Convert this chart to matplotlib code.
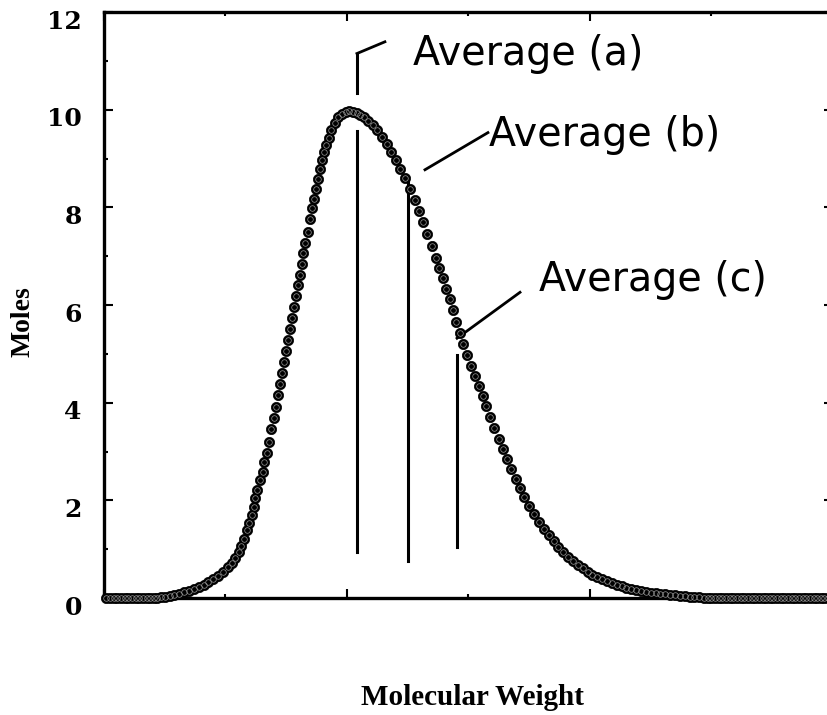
import matplotlib.pyplot as plt
from matplotlib.ticker import MultipleLocator, NullFormatter
from matplotlib.transforms import ScaledTranslation

# molecular weight (arbitrary units) and moles
mw = [1, 2.5, 4, 5.5, 7, 8.5, 10, 11.5, 13, 14.5, 16, 17.5, 19, 20.5, 22, 23.5, 25,
      27, 29, 31, 33, 35, 37, 39, 41, 43, 45, 47, 49, 51, 52.5, 54, 55.5, 56.5, 57.5,
      58.7, 59.8, 60.8, 61.7, 62.3, 63.1, 64.2, 65.3, 66.0, 67.0, 68.0, 68.8, 70.0, 70.8,
      71.7, 72.5, 73.3, 74.1, 74.9, 75.7, 76.5, 77.3, 78.1, 78.9, 79.7, 80.5, 81.3, 82.1,
      82.9, 83.8, 84.8, 85.6, 86.4, 87.2, 88.0, 88.8, 89.6, 90.4, 91.3, 92.4, 93.6, 95.0,
      96.5, 98.0, 99.5, 101.0, 102.5, 104.0, 105.5, 107.0, 108.5, 110.5, 112.5, 114.5,
      116.3, 118.0, 120.0, 122.0, 124.0, 126.0, 127.8, 129.5, 131.2, 133.0, 134.8, 136.6,
      138.0, 139.4, 140.8, 142.2, 143.6, 145.0, 146.4, 147.8, 149.4, 151.0, 152.6, 154.2,
      155.8, 157.4, 159.0, 160.7, 162.4, 164.1, 165.8, 167.6, 169.4, 171.2, 173.0, 175.0,
      177.0, 179.0, 181.0, 183.0, 185.0, 187.0, 189.0, 191.0, 193.0, 195.0, 197.0, 199.0,
      201.0, 203.0, 205.0, 207.0, 209.0, 211.0, 213.0, 215.0, 217.0, 219.0, 221.0, 223.0,
      225.0, 227.0, 229.0, 231.0, 233.0, 235.0, 237.0, 239.0, 241.0, 243.0, 245.0, 247.0,
      248.5, 250, 251.5, 253, 254.5, 256, 257.5, 259, 260.5, 262, 263.5, 265, 266.5, 268,
      269.5, 271, 272.5, 274, 275.5, 277, 278.5, 280, 281.5, 283, 284.5, 286, 287.5, 289,
      290.5, 292, 293.5, 295, 296.5, 298, 299.5]
moles = [0, 0, 0, 0, 0, 0, 0, 0, 0, 0, 0, 0, 0, 0, 0, 0.02, 0.03,
         0.05, 0.07, 0.09, 0.12, 0.15, 0.18, 0.22, 0.27, 0.33, 0.39, 0.46, 0.54, 0.63, 0.72, 0.82, 0.95, 1.06, 1.2,
         1.39, 1.54, 1.70, 1.87, 2.05, 2.21, 2.42, 2.59, 2.79, 2.97, 3.20, 3.46, 3.69, 3.91,
         4.15, 4.38, 4.6, 4.83, 5.05, 5.28, 5.5, 5.73, 5.95, 6.18, 6.4, 6.62, 6.84, 7.06,
         7.27, 7.5, 7.76, 7.98, 8.18, 8.38, 8.58, 8.78, 8.97, 9.13, 9.28, 9.43, 9.58, 9.73,
         9.84, 9.92, 9.96, 9.97, 9.96, 9.93, 9.89, 9.84, 9.77, 9.68, 9.58, 9.45,
         9.3, 9.14, 8.97, 8.79, 8.6, 8.38, 8.16, 7.93, 7.7, 7.45, 7.2, 6.96,
         6.75, 6.55, 6.33, 6.12, 5.9, 5.66, 5.42, 5.2, 4.98, 4.76, 4.55, 4.34,
         4.14, 3.93, 3.7, 3.48, 3.26, 3.05, 2.85, 2.64, 2.44, 2.25, 2.07, 1.89,
         1.72, 1.56, 1.42, 1.29, 1.17, 1.05, 0.95, 0.85, 0.76, 0.68, 0.61, 0.54,
         0.48, 0.43, 0.38, 0.34, 0.3, 0.27, 0.24, 0.21, 0.19, 0.17, 0.15, 0.13,
         0.11, 0.1, 0.09, 0.08, 0.07, 0.06, 0.05, 0.04, 0.03, 0.02, 0.02, 0.01,
         0, 0, 0, 0, 0, 0, 0, 0, 0, 0, 0, 0, 0, 0,
         0, 0, 0, 0, 0, 0, 0, 0, 0, 0, 0, 0, 0, 0,
         0, 0, 0, 0, 0, 0, 0]

# the three averages: position, bottom/top of the drop line, label text
avg_x = [104.1, 125.1, 145.3]
avg_bottom = [0.94, 0.76, 1.05]
avg_top = [9.57, 8.57, 4.98]
avg_labels = ['Average (a)', 'Average (b)', 'Average (c)']
label_pos = [(127, 11.13), (158.5, 9.49), (179.2, 6.52)]
leader_start = [(104.1, 11.15), (132.1, 8.77), (145.3, 5.32)]
leader_end = [(115.6, 11.39), (158.0, 9.53), (171.2, 6.26)]

fig = plt.figure(figsize=(8.28, 7.15), dpi=100)
ax = fig.add_axes([0.1256, 0.1636, 0.8804, 0.8196])

ax.plot(mw, moles, 'o', ms=7.4, mfc='black', mec='black', mew=0.5, clip_on=False, zorder=3)
ax.plot(mw, moles, 'o', ms=4.0, mfc='none', mec='0.6', mew=0.5, clip_on=False, zorder=4)

for i in range(3):
    ax.plot([avg_x[i], avg_x[i]], [avg_bottom[i], avg_top[i]], color='black', lw=2.2, zorder=2)
    ax.plot([leader_start[i][0], leader_end[i][0]], [leader_start[i][1], leader_end[i][1]],
            color='black', lw=2.0, zorder=2)
    ax.text(label_pos[i][0], label_pos[i][1], avg_labels[i], fontsize=28.5,
            family='DejaVu Sans', ha='left', va='center')

# upper piece of the (a) line above the peak
ax.plot([avg_x[0], avg_x[0]], [10.35, 11.15], color='black', lw=2.2)

ax.set_xlim(0, 300)
ax.set_ylim(0, 12)
ax.xaxis.set_major_locator(MultipleLocator(100))
ax.xaxis.set_minor_locator(MultipleLocator(50))
ax.yaxis.set_major_locator(MultipleLocator(2))
ax.yaxis.set_minor_locator(MultipleLocator(1))
ax.xaxis.set_major_formatter(NullFormatter())
ax.tick_params(which='both', direction='in', top=True, right=True, width=1.5)
ax.tick_params(which='major', length=6.5)
ax.tick_params(which='minor', length=3)
ax.tick_params(axis='y', pad=16)
shift = ScaledTranslation(0, -7 / 100, fig.dpi_scale_trans)
for lab in ax.get_yticklabels():
    lab.set_fontfamily('DejaVu Serif')
    lab.set_fontweight('bold')
    lab.set_fontsize(18)
    lab.set_transform(lab.get_transform() + shift)
for sp in ax.spines.values():
    sp.set_linewidth(2.4)

fig.text(0.028, 0.55, 'Moles', rotation=90, ha='center', va='center',
         family='Liberation Serif', fontweight='bold', fontsize=20)
fig.text(0.57, 0.024, 'Molecular Weight', ha='center', va='center',
         family='Liberation Serif', fontweight='bold', fontsize=21)

fig.savefig('out.png', dpi=100)
